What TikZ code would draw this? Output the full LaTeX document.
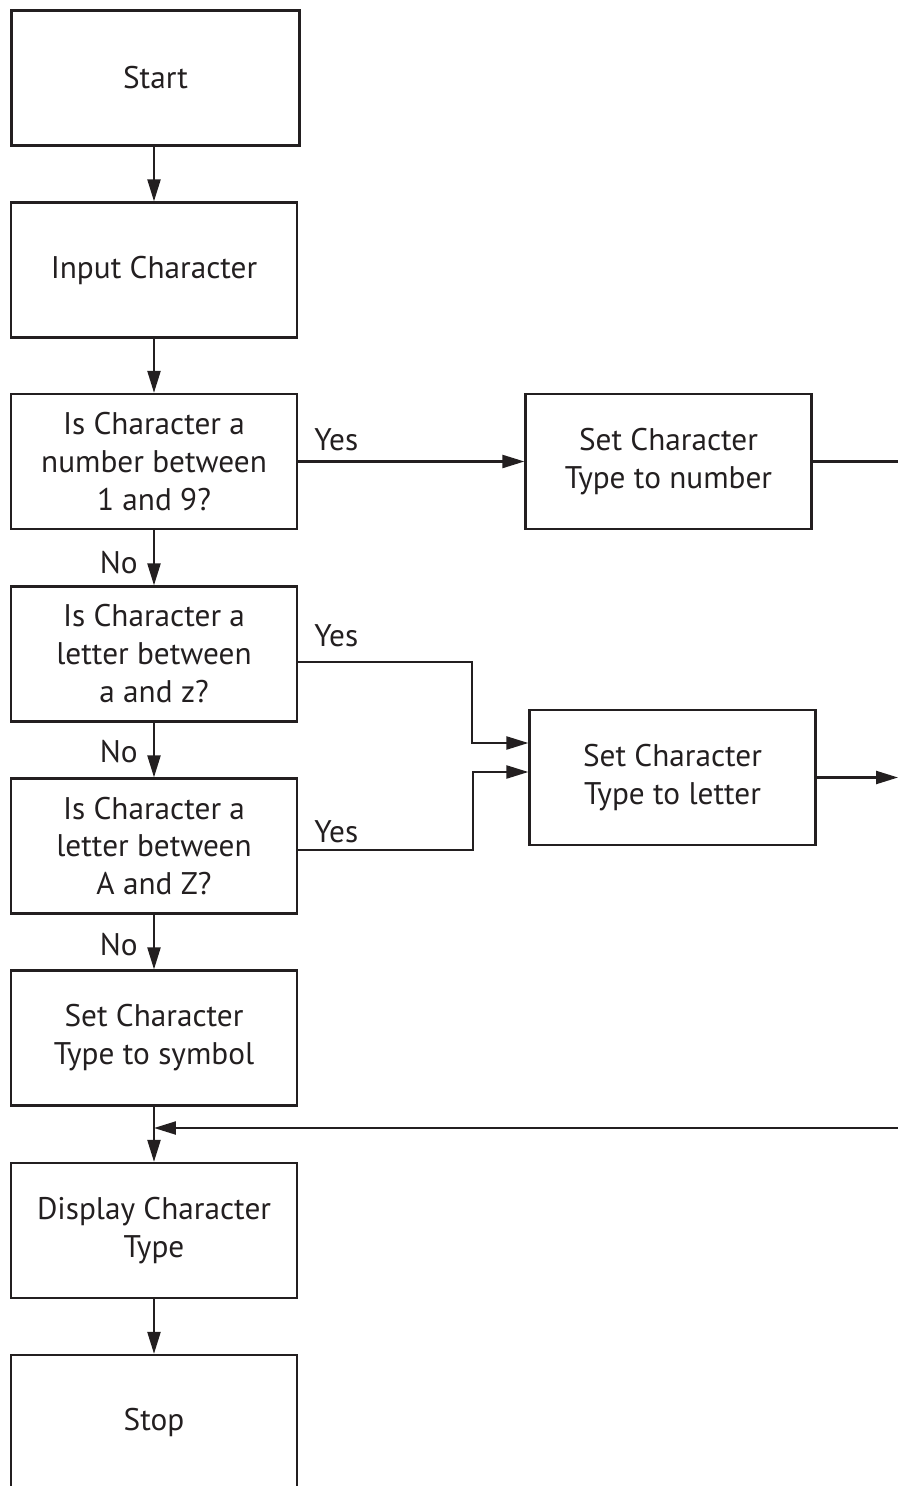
\documentclass[tikz,border=0pt]{standalone}
\usepackage{fontspec}
\setmainfont{PT Sans}
\usetikzlibrary{arrows.meta}
\definecolor{ink}{HTML}{231F20}
\begin{document}
\begin{tikzpicture}[x=0.02cm,y=-0.02cm, color=ink,
  box/.style={draw, line width=1.3pt, minimum width=5.72cm, minimum height=2.7cm, align=center, inner sep=0pt, font=\fontsize{17.8}{21.6}\selectfont},
  lbl/.style={font=\fontsize{17.8}{21.6}\selectfont, inner sep=0pt},
  conn/.style={line width=1.3pt},
  arr/.style={conn, -{Triangle[length=0.44cm,width=0.26cm]}}]
\useasboundingbox (0,0) rectangle (898,1486);
\node[box, minimum width=5.76cm] (start) at (155.5,78) {Start};
\node[box] (input) at (154,270) {Input Character};
\node[box] (q1) at (154,461.5) {Is Character a\\number between\\1 and 9?};
\node[box] (q2) at (154,654) {Is Character a\\letter between\\a and z?};
\node[box] (q3) at (154,846) {Is Character a\\letter between\\A and Z?};
\node[box] (sym) at (154,1038) {Set Character\\Type to symbol};
\node[box] (disp) at (154,1230.5) {Display Character\\Type};
\node[box] (stop) at (154,1422.5) {Stop};
\node[box] (setnum) at (668.5,461.5) {Set Character\\Type to number};
\node[box] (setlet) at (672.5,777.5) {Set Character\\Type to letter};

\node[lbl, anchor=east] (no1) at (138,563) {No};
\node[lbl, anchor=east] (no2) at (138,752) {No};
\node[lbl, anchor=east] (no3) at (138,945) {No};
\node[lbl, anchor=west] (yes1) at (314,440) {Yes};
\node[lbl, anchor=west] (yes2) at (314,636) {Yes};
\node[lbl, anchor=west] (yes3) at (314,832) {Yes};

\coordinate (j1) at (472,743);
\coordinate (j2) at (473,772);
\coordinate (r1) at (898,461.5);
\coordinate (r2) at (898,777.5);
\coordinate (r3) at (898,1128);

\draw[arr] (start.south -| input.north) -- (input.north);
\draw[arr] (input) -- (q1);
\draw[arr] (q1) -- (q2);
\draw[arr] (q2) -- (q3);
\draw[arr] (q3) -- (sym);
\draw[arr] (sym) -- (disp);
\draw[arr] (disp) -- (stop);
\draw[arr] (q1.east) -- (setnum.west);
\draw[arr] ([yshift=-0.16cm]q2.east) -| (j1) -- (setlet.west |- j1);
\draw[arr] ([yshift=-0.08cm]q3.east) -| (j2) -- (setlet.west |- j2);
\draw[conn] (setnum.east) -- (r1);
\draw[arr] (setlet.east) -- (r2);
\draw[arr] (r3) -- (disp.north |- r3);
\end{tikzpicture}
\end{document}
